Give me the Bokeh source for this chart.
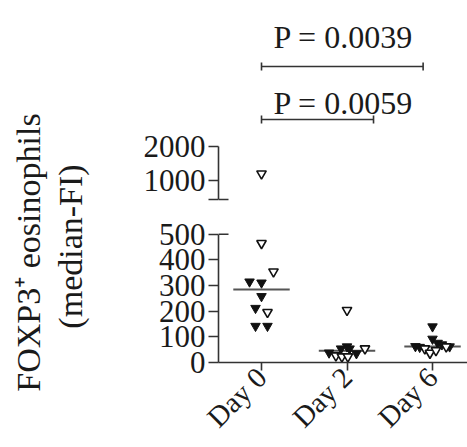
import numpy as np
from math import pi
from bokeh.plotting import figure
from bokeh.layouts import row, column
from bokeh.models import Range1d, FixedTicker, Label
from bokeh.core.properties import value
from bokeh.embed import file_html
from bokeh.resources import INLINE

# ---------------- data ----------------
categories = ["Day 0", "Day 2", "Day 6"]

day0_values = [1200, 465, 354, 315, 311, 258, 212, 196, 142, 142]
day0_filled = [False, False, False, True, True, True, True, False, True, True]
day0_jitter = [0, 0, 0.14, -0.14, 0, 0, -0.07, 0.07, -0.07, 0.07]

day2_values = [204, 62, 54, 54, 54, 38, 27, 23, 23, 35]
day2_filled = [False, True, True, True, False, True, False, False, False, True]
day2_jitter = [0, 0, -0.07, 0.03, 0.21, -0.21, -0.13, -0.06, 0.01, 0.11]

day6_values = [140, 92, 76, 63, 60, 54, 37, 47, 70, 62, 62]
day6_filled = [True, True, True, True, True, False, False, False, True, False, True]
day6_jitter = [0, 0, 0.06, -0.2, -0.15, -0.09, -0.03, 0.04, 0.11, 0.16, 0.2]

lower_ticks = [0, 100, 200, 300, 400, 500]
upper_ticks = [1000, 2000]
break_low = 500      # top of the lower segment
upper_start = 441    # bottom of the upper segment

comparisons_start = [0.0, 0.0]
comparisons_end = [1.89, 1.31]
p_labels = ["P = 0.0039", "P = 0.0059"]
bracket_y = [4353, 2794]
p_label_y = [5206, 3294]

# ---------------- style ----------------
FONT = "Liberation Serif"
TXT = "#1a1a1a"
AX = "#333333"
FS = "31px"

groups = [(day0_values, day0_filled, day0_jitter),
          (day2_values, day2_filled, day2_jitter),
          (day6_values, day6_filled, day6_jitter)]

xr = Range1d(-0.503, 2.409)

def style_common(p):
    p.outline_line_color = None
    p.xgrid.visible = False
    p.ygrid.visible = False
    p.background_fill_color = None
    p.border_fill_color = None

def style_yaxis(ax):
    ax.axis_line_color = AX
    ax.axis_line_width = 1.6
    ax.major_tick_line_color = AX
    ax.major_tick_line_width = 1.6
    ax.major_tick_out = 10
    ax.major_tick_in = 0
    ax.minor_tick_out = 0
    ax.minor_tick_in = 0
    ax.major_label_text_font = FONT
    ax.major_label_text_font_size = FS
    ax.major_label_text_color = TXT
    ax.major_label_standoff = 3

# ---------------- upper segment ----------------
upper = figure(width=367, height=213, x_range=xr, y_range=Range1d(29.4, 6294),
               output_backend="svg", toolbar_location=None, x_axis_location=None,
               min_border_left=118, min_border_right=0, min_border_top=0, min_border_bottom=0)
style_common(upper)
uax = upper.yaxis[0]
style_yaxis(uax)
uax.ticker = FixedTicker(ticks=[upper_start] + upper_ticks)
uax.major_label_overrides = {upper_start: ""}
uax.bounds = (upper_start, upper_ticks[-1])

cap = 0.117
upper.segment(x0=[xr.start], x1=[xr.start + cap], y0=[upper_start], y1=[upper_start],
              line_color=AX, line_width=1.6)

# brackets + p labels
for xs, xe, yb, yl, lab in zip(comparisons_start, comparisons_end, bracket_y, p_label_y, p_labels):
    upper.segment(x0=[xs], x1=[xe], y0=[yb], y1=[yb], line_color=AX, line_width=1.6)
    upper.segment(x0=[xs, xe], x1=[xs, xe], y0=[yb - 120, yb - 120], y1=[yb + 120, yb + 120],
                  line_color=AX, line_width=1.6)
    upper.text(x=[xs + 0.14], y=[yl], text=[lab], text_font=value(FONT),
               text_font_size="32px", text_color=TXT, text_align="left",
               text_baseline="alphabetic")

# ---------------- lower segment ----------------
lower = figure(width=367, height=234, x_range=xr, y_range=Range1d(0, 581),
               output_backend="svg", toolbar_location=None,
               min_border_left=118, min_border_right=0, min_border_top=0, min_border_bottom=83)
style_common(lower)
lax = lower.yaxis[0]
style_yaxis(lax)
lax.ticker = FixedTicker(ticks=lower_ticks)
lax.bounds = (0, break_low)
lower.segment(x0=[xr.start], x1=[xr.start + cap], y0=[break_low], y1=[break_low],
              line_color=AX, line_width=1.6)

xax = lower.xaxis[0]
xax.ticker = FixedTicker(ticks=list(range(len(categories))))
xax.major_label_overrides = {i: c for i, c in enumerate(categories)}
xax.major_label_text_font = FONT
xax.major_label_text_font_size = "29px"
xax.major_label_text_color = TXT
xax.major_label_orientation = pi / 4
xax.major_label_standoff = 2
xax.axis_line_color = AX
xax.axis_line_width = 1.6
xax.major_tick_line_color = AX
xax.major_tick_line_width = 1.6
xax.major_tick_out = 8
xax.major_tick_in = 0
xax.minor_tick_out = 0
xax.minor_tick_in = 0

# points and medians
for i, (vals, filled, jit) in enumerate(groups):
    vals = np.array(vals, dtype=float)
    filled = np.array(filled)
    xs = i + np.array(jit)
    med = float(np.median(vals))
    lower.segment(x0=[i - 0.33], x1=[i + 0.33], y0=[med], y1=[med],
                  line_color="#555555", line_width=2)
    for fig, mask in ((lower, vals <= break_low), (upper, vals > break_low)):
        f = mask & filled
        o = mask & ~filled
        if f.any():
            fig.scatter(x=xs[f], y=vals[f], marker="inverted_triangle", size=9.5,
                        fill_color="#111111", line_color="#111111", line_width=1)
        if o.any():
            fig.scatter(x=xs[o], y=vals[o], marker="inverted_triangle", size=9.5,
                        fill_color="white", line_color="#111111", line_width=1.6)

# ---------------- y-axis title ----------------
title = figure(width=100, height=447, x_range=Range1d(0, 1), y_range=Range1d(0, 1),
               output_backend="svg", toolbar_location=None,
               x_axis_location=None, y_axis_location=None,
               min_border_left=0, min_border_right=0, min_border_top=0, min_border_bottom=0)
style_common(title)
title.add_layout(Label(x=28, y=195, x_units="screen", y_units="screen", angle=pi / 2,
                       text="FOXP3\u207a eosinophils", text_font=FONT, text_font_size="34px",
                       text_color=TXT, text_align="center", text_baseline="alphabetic"))
title.add_layout(Label(x=70, y=201, x_units="screen", y_units="screen", angle=pi / 2,
                       text="(median-FI)", text_font=FONT, text_font_size="34px",
                       text_color=TXT, text_align="center", text_baseline="alphabetic"))

layout = row(title, column(upper, lower))

open("out.html", "w").write(file_html(layout, INLINE))
